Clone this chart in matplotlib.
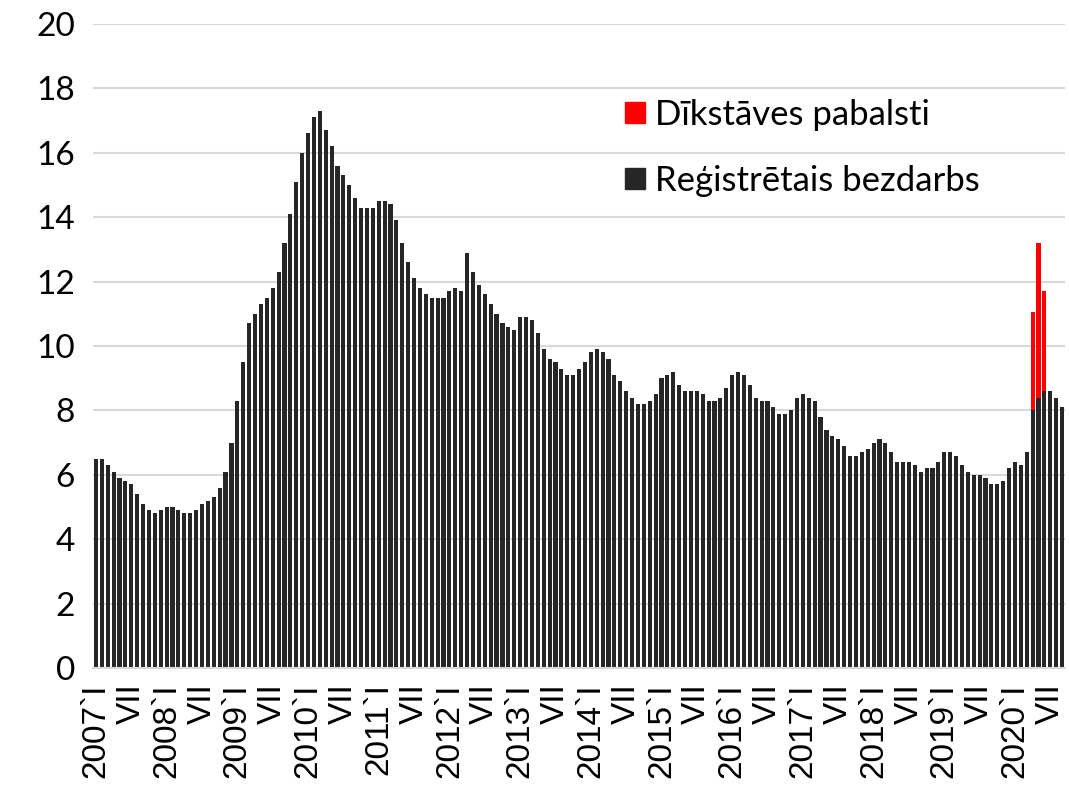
import matplotlib
matplotlib.use("Agg")
import matplotlib.pyplot as plt
from matplotlib.patches import Patch
import numpy as np

# Registered unemployment, monthly 2007 I - 2020 IX (%)
registered = [
    6.5, 6.5, 6.3, 6.1, 5.9, 5.8, 5.7, 5.4, 5.1, 4.9, 4.8, 4.9,      # 2007
    5.0, 5.0, 4.9, 4.8, 4.8, 4.9, 5.1, 5.2, 5.3, 5.6, 6.1, 7.0,      # 2008
    8.3, 9.5, 10.7, 11.0, 11.3, 11.5, 11.8, 12.3, 13.2, 14.1, 15.1, 16.0,  # 2009
    16.6, 17.1, 17.3, 16.7, 16.2, 15.6, 15.3, 15.0, 14.6, 14.3, 14.3, 14.3,  # 2010
    14.5, 14.5, 14.4, 13.9, 13.2, 12.6, 12.1, 11.8, 11.6, 11.5, 11.5, 11.5,  # 2011
    11.7, 11.8, 11.7, 12.9, 12.3, 11.9, 11.6, 11.3, 11.0, 10.7, 10.6, 10.5,  # 2012
    10.9, 10.9, 10.8, 10.4, 9.9, 9.6, 9.5, 9.3, 9.1, 9.1, 9.3, 9.5,  # 2013
    9.8, 9.9, 9.8, 9.6, 9.1, 8.9, 8.6, 8.4, 8.2, 8.2, 8.3, 8.5,      # 2014
    9.0, 9.1, 9.2, 8.8, 8.6, 8.6, 8.6, 8.5, 8.3, 8.3, 8.4, 8.7,      # 2015
    9.1, 9.2, 9.1, 8.8, 8.4, 8.3, 8.3, 8.1, 7.9, 7.9, 8.0, 8.4,      # 2016
    8.5, 8.4, 8.3, 7.8, 7.4, 7.2, 7.1, 6.9, 6.6, 6.6, 6.7, 6.8,      # 2017
    7.0, 7.1, 7.0, 6.7, 6.4, 6.4, 6.4, 6.3, 6.1, 6.2, 6.2, 6.4,      # 2018
    6.7, 6.7, 6.6, 6.3, 6.1, 6.0, 6.0, 5.9, 5.7, 5.7, 5.8, 6.2,      # 2019
    6.4, 6.3, 6.7, 8.0, 8.4, 8.6, 8.6, 8.4, 8.1,                     # 2020
]
# Idle time (downtime) benefits, 2020 IV - VI
idle = [0.0] * (len(registered) - 6) + [3.05, 4.8, 3.1, 0.0, 0.0, 0.0]

years = list(range(2007, 2021))
tick_labels = []
for y in years:
    tick_labels += [f"{y}`I", "VII"]
tick_labels = tick_labels[:len(range(0, len(registered), 6))]

x = np.arange(len(registered))

fig = plt.figure(figsize=(10.69, 7.90), dpi=100)
ax = fig.add_axes([0.087, 0.1544, 0.9093, 0.8152])

ax.bar(x, registered, width=0.7, color="#262626", antialiased=False, zorder=2)
ax.bar(x, idle, width=0.7, bottom=registered, color="#ff0000", antialiased=False, zorder=2)

ax.set_xlim(-0.5, len(registered) - 0.5)
ax.set_ylim(0, 20)
ax.set_yticks(range(0, 21, 2))
ax.yaxis.grid(True, color="#d9d9d9", linewidth=1.5, zorder=0)
ax.set_axisbelow(True)

for s in ["top", "right", "left"]:
    ax.spines[s].set_visible(False)
ax.spines["bottom"].set_color("#d9d9d9")
ax.spines["bottom"].set_linewidth(1.5)

ax.set_xticks(x[::6])
ax.set_xticklabels(tick_labels, rotation=90, fontsize=24)
for lab in ax.get_xticklabels():
    lab.set_fontfamily(["Liberation Sans", "DejaVu Sans"])
ax.tick_params(axis="x", length=0, pad=11)
ax.tick_params(axis="y", length=0, pad=13, labelsize=24)
for lab in ax.get_yticklabels():
    lab.set_fontfamily(["Lato", "DejaVu Sans"])

handles = [Patch(color="#ff0000", label="Dīkstāves pabalsti"),
           Patch(color="#262626", label="Reģistrētais bezdarbs")]
ax.legend(handles=handles, loc="upper left", bbox_to_anchor=(0.547, 0.8835),
          frameon=False, prop={"family": ["Lato", "DejaVu Sans"], "size": 25},
          handlelength=0.58, handleheight=0.55, handletextpad=0.3,
          labelspacing=0.98, borderpad=0, borderaxespad=0)

plt.savefig("out.png", dpi=100)
